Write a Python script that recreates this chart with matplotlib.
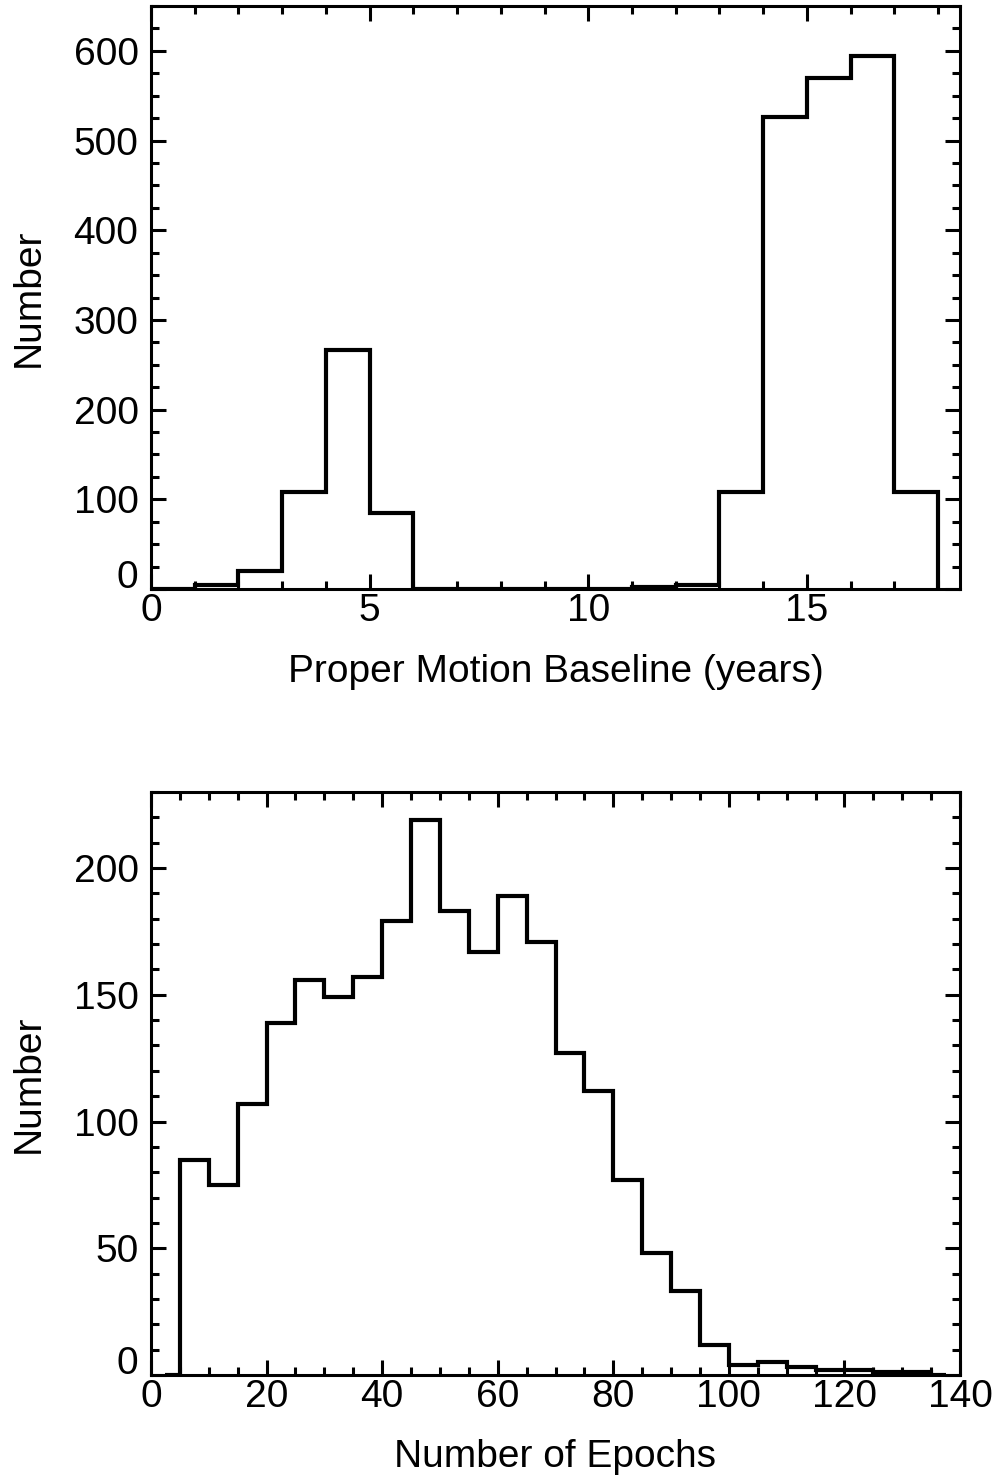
import numpy as np
import matplotlib.pyplot as plt
from matplotlib.ticker import MultipleLocator, FuncFormatter

plt.rcParams['font.family'] = ['Liberation Sans', 'DejaVu Sans']

# top panel: proper motion baseline, 1-year bins
base_edges = np.arange(0, 19, 1)
base_counts = [0, 5, 20, 108, 267, 85, 0, 0, 0, 0, 0, 2, 5, 108, 526, 570, 594, 108]

# bottom panel: number of epochs, 5-epoch bins (first/last half bins empty)
epoch_edges = [2.5] + list(range(5, 140, 5)) + [137.5]
epoch_counts = [0, 85, 75, 107, 139, 156, 149, 157, 179, 219, 183, 167, 189, 171,
                127, 112, 77, 48, 33, 12, 4, 5, 3, 2, 2, 1, 1, 0]

fig = plt.figure(figsize=(9.98, 14.77), dpi=100)
W, H = 998, 1477
ax1 = fig.add_axes([151 / W, 1 - 589 / H, (960 - 151) / W, (589 - 6) / H])
ax2 = fig.add_axes([151 / W, 1 - 1375 / H, (960 - 151) / W, (1375 - 792) / H])


def style(ax):
    for s in ax.spines.values():
        s.set_linewidth(2.2)
    ax.tick_params(which='both', direction='in', top=True, right=True,
                   width=2.2, labelsize=28)
    ax.tick_params(which='major', length=11)
    ax.tick_params(which='minor', length=5.5)
    ax.tick_params(axis='y', pad=9)
    ax.tick_params(axis='x', pad=3)
    # IDL-style: the zero label sits on top of the axis instead of centred
    ax.yaxis.set_major_formatter(FuncFormatter(lambda v, p: '' if v == 0 else f'{v:g}'))
    ax.annotate('0', xy=(0, 0), xycoords='axes fraction', xytext=(-9, 0.5),
                textcoords='offset points', ha='right', va='baseline', fontsize=28)


ax1.stairs(base_counts, base_edges, baseline=0, color='black', linewidth=3)
ax1.set_xlim(0, 18.5)
ax1.set_ylim(0, 650)
ax1.xaxis.set_major_locator(MultipleLocator(5))
ax1.xaxis.set_minor_locator(MultipleLocator(1))
ax1.yaxis.set_major_locator(MultipleLocator(100))
ax1.yaxis.set_minor_locator(MultipleLocator(25))
style(ax1)
ax1.set_xlabel('Proper Motion Baseline (years)', fontsize=28, labelpad=18)
ax1.set_ylabel('Number', fontsize=28, labelpad=19)

ax2.stairs(epoch_counts, epoch_edges, baseline=0, color='black', linewidth=3)
ax2.set_xlim(0, 140)
ax2.set_ylim(0, 230)
ax2.xaxis.set_major_locator(MultipleLocator(20))
ax2.xaxis.set_minor_locator(MultipleLocator(5))
ax2.yaxis.set_major_locator(MultipleLocator(50))
ax2.yaxis.set_minor_locator(MultipleLocator(10))
style(ax2)
ax2.set_xlabel('Number of Epochs', fontsize=28, labelpad=17)
ax2.set_ylabel('Number', fontsize=28, labelpad=19)

fig.savefig('out.png', dpi=100)
